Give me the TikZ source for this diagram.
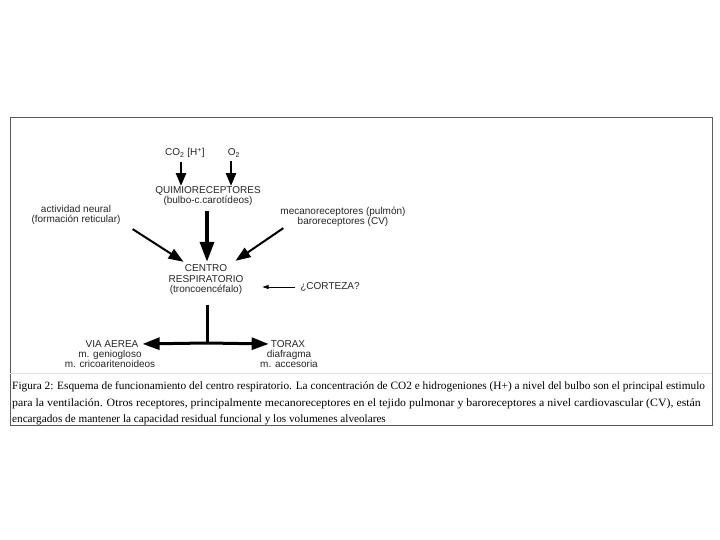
\documentclass[tikz,border=0pt]{standalone}
\usepackage{fontspec}
\setmainfont{Liberation Serif}
\setsansfont{Liberation Sans}
\usetikzlibrary{arrows.meta,calc}
\begin{document}
\begin{tikzpicture}[x=1pt,y=-1pt,
  lbl/.style={font=\sffamily\fontsize{10}{10.5}\selectfont, align=center, inner sep=0pt, text=black!85},
  captext/.style={font=\rmfamily\fontsize{11.2}{17}\selectfont, anchor=base west, inner sep=0pt},
  arrA/.style={line width=2.5pt, -{Triangle[length=13pt,width=10pt]}},
  arrB/.style={line width=3.5pt, -{Triangle[length=20pt,width=14pt]}},
  arrC/.style={line width=2pt, -{Triangle[length=15pt,width=11pt]}},
  arrD/.style={line width=3pt, -{Triangle[length=17pt,width=12pt]}},
  arrE/.style={line width=0.7pt, -{Triangle[length=6pt,width=4pt]}},
]
\useasboundingbox (0,0) rectangle (720,540);
\fill[white] (0,0) rectangle (720,540);
% frame
\draw[black!65, line width=1pt] (10,118) rectangle (712,425);
\draw[black!12, line width=0.8pt] (10,373) -- (712,373);

% nodes
\node[lbl, anchor=west] (co2) at (165,153) {CO\textsubscript{2} [H\textsuperscript{+}]};
\node[lbl] (o2) at (234,153) {O\textsubscript{2}};
\node[lbl] (quimio) at (208,196) {QUIMIORECEPTORES\\(bulbo-c.carotídeos)};
\node[lbl] (act) at (76,215) {actividad neural\\(formación reticular)};
\node[lbl] (meca) at (343,217) {mecanoreceptores (pulmón)\\baroreceptores (CV)};
\node[lbl] (centro) at (206,280) {CENTRO\\RESPIRATORIO\\(troncoencéfalo)};
\node[lbl] (corteza) at (330,287) {¿CORTEZA?};
\node[lbl] (via) at (112,344) {VIA AEREA};
\node[lbl, anchor=north] (viasub) at (110,350) {m. geniogloso\\m. cricoaritenoideos};
\node[lbl] (torax) at (288,344) {TORAX};
\node[lbl, anchor=north] (toraxsub) at (289,350) {diafragma\\m. accesoria};
\coordinate (j) at (207,343);

% connectors
\coordinate (c1) at ($(co2.south west)+(16,4)$);
\coordinate (c2) at ($(o2.south)+(-3,4)$);
\coordinate (q0) at ($(quimio.south)+(-1,5)$);
\coordinate (q1) at (q0 |- centro.north);
\coordinate (r0) at ($(centro.south)+(1,10)$);
\draw[arrA] (c1) -- (c1 |- quimio.north);
\draw[arrA] (c2) -- (c2 |- quimio.north);
\draw[arrB, shorten >=3pt] (q0) -- (q1);
\draw[arrC] ($(act.south east)+(12,4)$) -- ($(centro.north west)+(15,-3)$);
\draw[arrC] ($(meca.south west)+(3,1)$) -- ($(centro.north east)+(-8,-4)$);
\draw[arrE, shorten <=5pt, shorten >=19pt] (corteza.west) -- (corteza.west -| centro.east);
\draw[line width=3pt] (r0) -- (j);
\draw[arrD, shorten >=4pt] (j) -- (via.east);
\draw[arrD, shorten >=2pt] (j) -- (torax.west);

% caption
\node[captext] (l1) at (12,389) {\scalebox{1.012}[1]{Figura 2: Esquema de funcionamiento del centro respiratorio. La concentración de CO2 e hidrogeniones (H+) a nivel del bulbo son el principal estimulo}};
\node[captext] (l2) at (12,406) {\scalebox{1.059}[1]{para la ventilación. Otros receptores, principalmente mecanoreceptores en el tejido pulmonar y baroreceptores a nivel cardiovascular (CV), están}};
\node[captext] (l3) at (12,422) {encargados de mantener la capacidad residual funcional y los volumenes alveolares};
\end{tikzpicture}
\end{document}
